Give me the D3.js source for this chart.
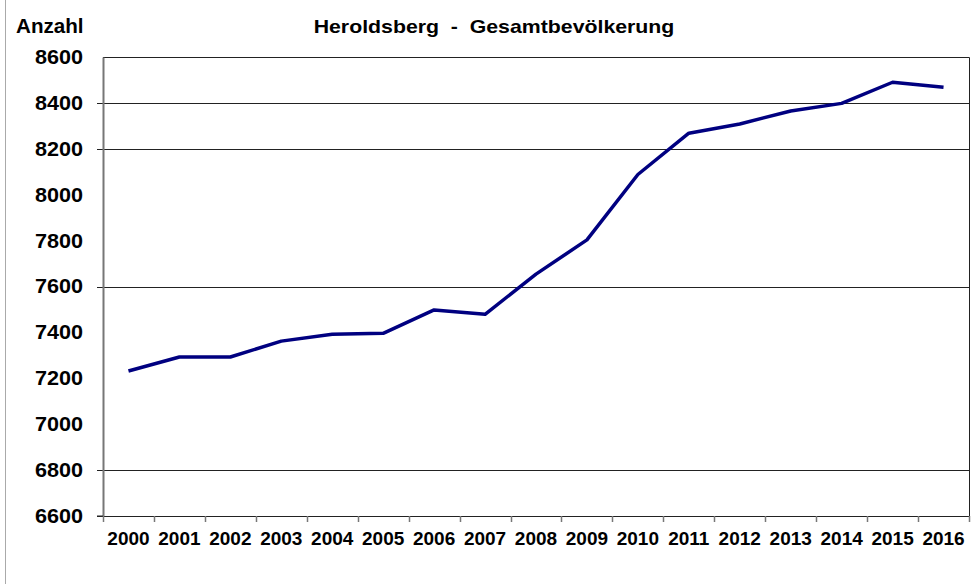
<!DOCTYPE html>
<html>
<head>
<meta charset="utf-8">
<script src="https://cdn.jsdelivr.net/npm/d3@7"></script>
<style>
  body { margin: 0; background: #fff; }
  svg text { font-family: "Liberation Sans", Arial, sans-serif; font-weight: bold; fill: #000; }
</style>
</head>
<body>
<svg></svg>
<script>
let years = ['2000','2001','2002','2003','2004','2005','2006','2007','2008',
             '2009','2010','2011','2012','2013','2014','2015','2016']
let population = [7232, 7293, 7293, 7362, 7392, 7396, 7498, 7479, 7654,
                  7803, 8088, 8268, 8308, 8365, 8398, 8490, 8468]
let yTicks = [6600, 6800, 7000, 7200, 7400, 7600, 7800, 8000, 8200, 8400, 8600]
// only these grid lines show up in the original picture
let gridValues = [6800, 7600, 8200, 8400]

let width = 978
let height = 584
let plotLeft = 103
let plotRight = 969
let plotTop = 57
let plotBottom = 516

let svg = d3.select('svg')
    .attr('width', width)
    .attr('height', height)

let xScale = d3.scaleBand()
    .domain(years)
    .range([plotLeft, plotRight])

let yScale = d3.scaleLinear()
    .domain([6600, 8600])
    .range([plotBottom, plotTop])

// stretch text sideways a little, like the original
let widen = (sel, factor) => {
    sel.each(function () {
        let len = this.getComputedTextLength()
        d3.select(this)
            .attr('textLength', len * factor)
            .attr('lengthAdjust', 'spacingAndGlyphs')
    })
}

// outer frame line on the left
svg.append('line')
    .attr('x1', 5.5).attr('x2', 5.5)
    .attr('y1', 0).attr('y2', height)
    .attr('stroke', '#aaa')
    .attr('stroke-width', 1)

// grid lines
svg.selectAll('.grid')
    .data(gridValues)
    .enter()
    .append('line')
    .attr('class', 'grid')
    .attr('x1', plotLeft - 6)
    .attr('x2', plotRight)
    .attr('y1', (d) => Math.round(yScale(d)) + 0.5)
    .attr('y2', (d) => Math.round(yScale(d)) + 0.5)
    .attr('stroke', '#222')
    .attr('stroke-width', 1)

// top and right border
svg.append('path')
    .attr('d', 'M' + plotLeft + ',' + (plotTop + 0.5) + 'H' + (plotRight + 0.5) + 'V' + plotBottom)
    .attr('fill', 'none')
    .attr('stroke', '#222')
    .attr('stroke-width', 1)

// y axis
let yAxis = d3.axisLeft(yScale)
    .tickValues(yTicks)
    .tickSize(0)
    .tickPadding(20)
    .tickFormat(d3.format('d'))

let gy = svg.append('g')
    .attr('transform', 'translate(' + plotLeft + ', 0)')
    .call(yAxis)
gy.select('.domain').attr('stroke', '#777').attr('stroke-width', 2)
gy.selectAll('text')
    .style('font-size', '20px')
    .attr('fill', '#000')
    .call(widen, 1.08)

// small y tick at the bottom
svg.selectAll('.ytick')
    .data([6600])
    .enter()
    .append('line')
    .attr('x1', plotLeft - 6)
    .attr('x2', plotLeft)
    .attr('y1', (d) => yScale(d))
    .attr('y2', (d) => yScale(d))
    .attr('stroke', '#222')

// x axis line
svg.append('line')
    .attr('x1', plotLeft - 6)
    .attr('x2', plotRight + 1)
    .attr('y1', plotBottom + 0.5)
    .attr('y2', plotBottom + 0.5)
    .attr('stroke', '#222')
    .attr('stroke-width', 1.2)

// x ticks on band edges
let edges = years.map((d) => xScale(d)).concat([xScale.range()[1]])
svg.selectAll('.xtick')
    .data(edges)
    .enter()
    .append('line')
    .attr('x1', (d) => Math.round(d) + 0.5)
    .attr('x2', (d) => Math.round(d) + 0.5)
    .attr('y1', plotBottom)
    .attr('y2', plotBottom + 6)
    .attr('stroke', '#777')
    .attr('stroke-width', 1.5)

// x labels
svg.selectAll('.xlabel')
    .data(years)
    .enter()
    .append('text')
    .attr('x', (d) => xScale(d) + xScale.bandwidth() / 2)
    .attr('y', 545)
    .attr('text-anchor', 'middle')
    .style('font-size', '19px')
    .text((d) => d)

// the line
let line = d3.line()
    .x((d, i) => xScale(years[i]) + xScale.bandwidth() / 2)
    .y((d) => yScale(d))

svg.append('path')
    .datum(population)
    .attr('d', line)
    .attr('fill', 'none')
    .attr('stroke', '#000080')
    .attr('stroke-width', 3.5)
    .attr('stroke-linejoin', 'round')

// titles
svg.append('text')
    .attr('x', 16)
    .attr('y', 33)
    .style('font-size', '20px')
    .text('Anzahl')
    .call(widen, 1.03)

svg.append('text')
    .attr('x', 494)
    .attr('y', 33)
    .attr('text-anchor', 'middle')
    .style('font-size', '19px')
    .style('white-space', 'pre')
    .text('Heroldsberg  -  Gesamtbevölkerung')
    .call(widen, 1.12)
</script>
</body>
</html>
